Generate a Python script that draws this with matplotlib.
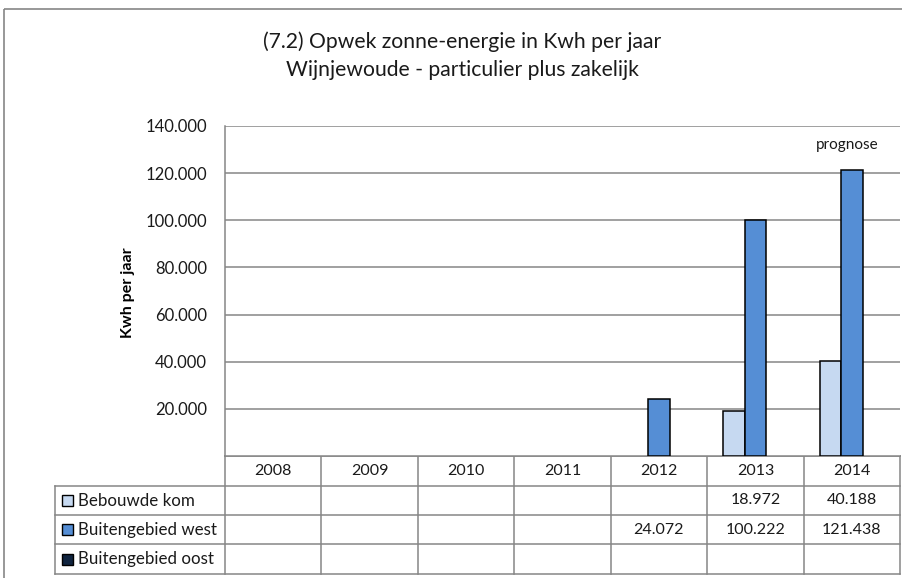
import numpy as np
import matplotlib
matplotlib.use("Agg")
import matplotlib.pyplot as plt
from matplotlib.patches import Rectangle

plt.rcParams['font.family'] = ['Lato', 'DejaVu Sans']

years = ['2008', '2009', '2010', '2011', '2012', '2013', '2014']
series_names = ['Bebouwde kom', 'Buitengebied west', 'Buitengebied oost']
bebouwde_kom = [np.nan, np.nan, np.nan, np.nan, np.nan, 18972, 40188]
buiten_west = [np.nan, np.nan, np.nan, np.nan, 24072, 100222, 121438]
buiten_oost = [np.nan, np.nan, np.nan, np.nan, np.nan, np.nan, np.nan]
series_values = [bebouwde_kom, buiten_west, buiten_oost]
series_colors = ['#C6D9F1', '#558ED5', '#10243F']
yticks = [20000, 40000, 60000, 80000, 100000, 120000, 140000]
title_lines = ['(7.2) Opwek zonne-energie in Kwh per jaar',
               'Wijnjewoude - particulier plus zakelijk']
ylabel = 'Kwh per jaar'
annotation = 'prognose'

W, H = 902, 578
fig = plt.figure(figsize=(W / 100, H / 100), dpi=100)

# overlay axes in pixel coordinates
ov = fig.add_axes([0, 0, 1, 1])
ov.set_xlim(0, W)
ov.set_ylim(H, 0)
ov.axis('off')

grid_col = '#868686'
txt_col = '#1a1a1a'

# outer chart border
ov.add_patch(Rectangle((4, 9), W + 20, H + 20, fill=False, ec=grid_col, lw=1.2, zorder=1))

# plot area
px_l, px_r, px_t, px_b = 225, 900, 126, 456
ax = fig.add_axes([px_l / W, 1 - px_b / H, (px_r - px_l) / W, (px_b - px_t) / H])
ax.set_xlim(-0.5, len(years) - 0.5)
ax.set_ylim(0, 140000)
ax.set_yticks(yticks)
ax.set_yticklabels([f"{v:,}".replace(',', '.') for v in yticks], fontsize=12, color=txt_col)
ax.tick_params(axis='y', length=0, pad=13)
ax.set_xticks([])
ax.yaxis.grid(True, color=grid_col, lw=1.1)
ax.set_axisbelow(True)
for s in ['top', 'right']:
    ax.spines[s].set_visible(False)
ax.spines['left'].set_color(grid_col)
ax.spines['left'].set_linewidth(1.1)
ax.spines['bottom'].set_color(grid_col)
ax.spines['bottom'].set_linewidth(1.1)

bw = 0.223
x = np.arange(len(years))
for i, (vals, col) in enumerate(zip(series_values, series_colors)):
    ax.bar(x + (i - 1) * bw, vals, width=bw, color=col, edgecolor='black', lw=1.1, zorder=3)

ax.text(len(years) - 1.05, 132000, annotation, ha='center', va='center', fontsize=11, color=txt_col)

# y label
ov.text(128, 293, ylabel, ha='center', va='center', rotation=90, fontsize=11.5,
        fontweight='bold', color='black')

# titles
ov.text(W / 2 + 11, 42, title_lines[0], ha='center', va='center', fontsize=15.2, color=txt_col)
ov.text(W / 2 + 11, 70, title_lines[1], ha='center', va='center', fontsize=15.2, color=txt_col)

# data table
col_w = (px_r - px_l) / len(years)
tbl_l = 55
row_bounds = [456, 486, 515, 544, 574]
for j in range(len(years) + 1):
    xx = px_l + j * col_w
    ov.plot([xx, xx], [row_bounds[0], row_bounds[-1]], color=grid_col, lw=1.1, zorder=2)
ov.plot([tbl_l, tbl_l], [row_bounds[1], row_bounds[-1]], color=grid_col, lw=1.1, zorder=2)
for k, yy in enumerate(row_bounds):
    xl = px_l if k == 0 else tbl_l
    ov.plot([xl, px_r], [yy, yy], color=grid_col, lw=1.1, zorder=2)

for j, yr in enumerate(years):
    ov.text(px_l + (j + 0.5) * col_w, (row_bounds[0] + row_bounds[1]) / 2, yr,
            ha='center', va='center', fontsize=11.5, color=txt_col)

for r, (name, vals, col) in enumerate(zip(series_names, series_values, series_colors)):
    yc = (row_bounds[r + 1] + row_bounds[r + 2]) / 2
    ov.add_patch(Rectangle((62, yc - 5.5), 11, 11, fc=col, ec='black', lw=1, zorder=3))
    ov.text(78, yc, name, ha='left', va='center', fontsize=12.2, color=txt_col)
    for j, v in enumerate(vals):
        if not np.isnan(v):
            ov.text(px_l + (j + 0.5) * col_w, yc, f"{int(v):,}".replace(',', '.'),
                    ha='center', va='center', fontsize=11.5, color=txt_col)

fig.savefig('out.png', dpi=100)
